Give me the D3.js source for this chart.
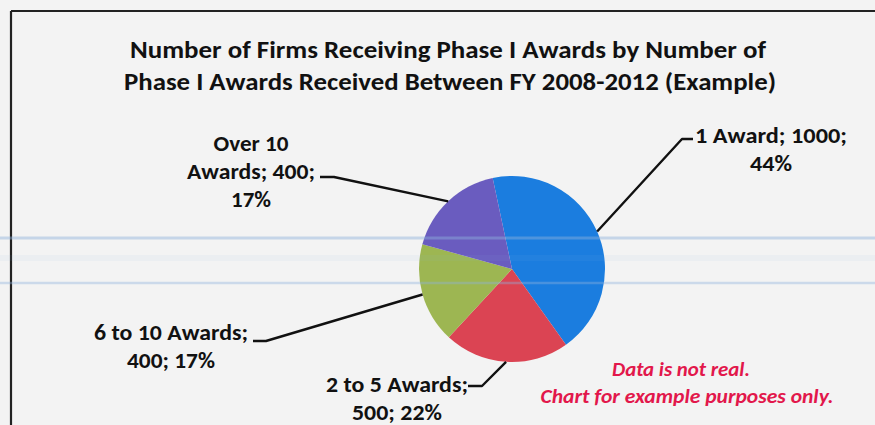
<!DOCTYPE html>
<html>
<head>
<meta charset="utf-8">
<script src="https://cdn.jsdelivr.net/npm/d3@7"></script>
<style>
  html, body { margin: 0; padding: 0; background: #f3f3f3; }
  svg { display: block; }
</style>
</head>
<body>
<svg id="chart" width="875" height="425"></svg>
<script>
// ---- Data ----
const categories = ["1 Award", "2 to 5 Awards", "6 to 10 Awards", "Over 10 Awards"];
const values = [1000, 500, 400, 400];
const percentLabels = ["44%", "22%", "17%", "17%"];
const colors = ["#1b7ddf", "#db4453", "#9db652", "#6a5cbf"];
const titleLines = [
  "Number of Firms Receiving Phase I Awards by Number of",
  "Phase I Awards Received Between FY 2008-2012 (Example)"
];
const noteLines = ["Data is not real.", "Chart for example purposes only."];

// label text lines per slice (built from data)
const labelLines = [
  [`${categories[0]}; ${values[0]};`, percentLabels[0]],
  [`${categories[1]};`, `${values[1]}; ${percentLabels[1]}`],
  [`${categories[2]};`, `${values[2]}; ${percentLabels[2]}`],
  ["Over 10", `Awards; ${values[3]};`, percentLabels[3]]
];

// ---- Layout ----
const W = 875, H = 425;
const cx = 512, cy = 269, R = 93;
const startAngle = -12 * Math.PI / 180;
const TITLE_FONT = "'Liberation Sans Narrow', Carlito, Calibri, Lato, sans-serif";
const FONT = "Carlito, Calibri, Lato, 'Open Sans', sans-serif";

// label layout: center x, first baseline, line widths, leader start & elbow
const labelLayout = [
  { x: 771, y: 143, widths: [152, 42], lead: [[693, 139], [682, 139]] },
  { x: 397, y: 392, widths: [142, 90], lead: [[468, 386], [482, 386]] },
  { x: 171, y: 340, widths: [154, 88], lead: [[253, 341], [266, 341]] },
  { x: 251, y: 151, widths: [75, 128, 40], lead: [[320, 177], [334, 177]] }
];
const lineGap = 28;

const svg = d3.select("#chart");

// background
svg.append("rect").attr("width", W).attr("height", H).attr("fill", "#f3f3f3");

// frame lines
svg.append("line").attr("x1", 11).attr("y1", 11).attr("x2", W).attr("y2", 11)
  .attr("stroke", "#222").attr("stroke-width", 2);
svg.append("line").attr("x1", 11).attr("y1", 11).attr("x2", 11).attr("y2", H)
  .attr("stroke", "#222").attr("stroke-width", 2.2);

// title
const titleLayout = [{ x: 448, y: 58, w: 636 }, { x: 450, y: 90, w: 652 }];
svg.append("g").selectAll("text").data(titleLines).join("text")
  .attr("x", (d, i) => titleLayout[i].x)
  .attr("y", (d, i) => titleLayout[i].y)
  .attr("text-anchor", "middle")
  .attr("font-family", TITLE_FONT).attr("font-weight", "bold").attr("font-size", 24)
  .attr("fill", "#111")
  .attr("textLength", (d, i) => titleLayout[i].w)
  .attr("lengthAdjust", "spacingAndGlyphs")
  .text(d => d);

// pie
const pie = d3.pie().sort(null).value(d => d)
  .startAngle(startAngle).endAngle(startAngle + 2 * Math.PI);
const arcs = pie(values);
const arc = d3.arc().innerRadius(0).outerRadius(R);

const g = svg.append("g").attr("transform", `translate(${cx},${cy})`);
g.selectAll("path").data(arcs).join("path")
  .attr("d", arc)
  .attr("fill", (d, i) => colors[i]);

// leader lines
arcs.forEach((a, i) => {
  const mid = (a.startAngle + a.endAngle) / 2;
  const px = cx + R * Math.sin(mid);
  const py = cy - R * Math.cos(mid);
  const L = labelLayout[i].lead;
  svg.append("path")
    .attr("d", d3.line()([L[0], L[1], [px, py]]))
    .attr("fill", "none").attr("stroke", "#111").attr("stroke-width", 2.4)
    .attr("stroke-linejoin", "round");
});

// labels
labelLines.forEach((lines, i) => {
  const lay = labelLayout[i];
  svg.append("g").selectAll("text").data(lines).join("text")
    .attr("x", lay.x)
    .attr("y", (d, j) => lay.y + j * lineGap)
    .attr("text-anchor", "middle")
    .attr("font-family", FONT).attr("font-weight", "bold").attr("font-size", 23)
    .attr("fill", "#111")
    .attr("textLength", (d, j) => lay.widths[j])
    .attr("lengthAdjust", "spacingAndGlyphs")
    .text(d => d);
});

// note
const noteLayout = [{ x: 681, y: 376, w: 138 }, { x: 687, y: 403, w: 293 }];
svg.append("g").selectAll("text").data(noteLines).join("text")
  .attr("x", (d, i) => noteLayout[i].x)
  .attr("y", (d, i) => noteLayout[i].y)
  .attr("text-anchor", "middle")
  .attr("font-family", FONT).attr("font-weight", 900).attr("font-style", "italic")
  .attr("font-size", 20)
  .attr("fill", "#e2174b")
  .attr("textLength", (d, i) => noteLayout[i].w)
  .attr("lengthAdjust", "spacingAndGlyphs")
  .text(d => d);

// faint blue ruled lines of the scanned page
[{ y: 238, w: 3, o: 0.45 }, { y: 258, w: 6, o: 0.07 }, { y: 283, w: 2.5, o: 0.4 }].forEach(l => {
  svg.append("line").attr("x1", 0).attr("x2", W).attr("y1", l.y).attr("y2", l.y)
    .attr("stroke", "#8fb2dc").attr("stroke-opacity", l.o).attr("stroke-width", l.w);
});
</script>
</body>
</html>
